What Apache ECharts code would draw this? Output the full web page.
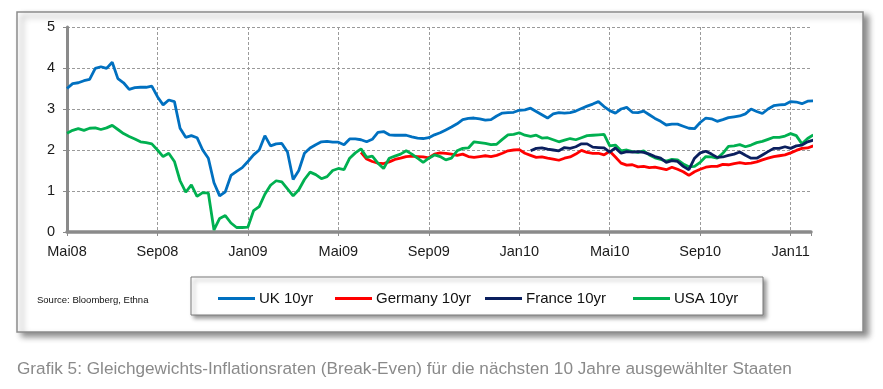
<!DOCTYPE html>
<html>
<head>
<meta charset="utf-8">
<script src="https://cdn.jsdelivr.net/npm/echarts@6/dist/echarts.min.js"></script>
<style>
html,body{margin:0;padding:0;background:#fff;}
#chart{width:883px;height:389px;}
</style>
</head>
<body>
<div id="chart"></div>
<script>
// Tick labels for the x axis (one every 4 months, starting May 2008)
const xTickLabels = ['Mai08','Sep08','Jan09','Mai09','Sep09','Jan10','Mai10','Sep10','Jan11'];
const seriesNames = ['UK 10yr','Germany 10yr','France 10yr','USA 10yr'];
// Sampling step of the readings, in months since May 2008
const stepMonths = 0.25;

// UK 10yr break-even (from step 0)
const ukVals = [
3.5,3.62,3.64,3.69,3.72,3.99,4.03,3.99,4.14,3.74,
3.64,3.48,3.52,3.53,3.53,3.56,3.3,3.1,3.22,3.18,
2.53,2.31,2.35,2.3,2.0,1.8,1.2,0.88,0.98,1.38,
1.48,1.57,1.72,1.88,2.0,2.35,2.1,2.15,2.16,1.95,
1.28,1.5,1.92,2.05,2.13,2.2,2.21,2.19,2.19,2.13,
2.27,2.27,2.25,2.2,2.26,2.43,2.45,2.37,2.36,2.36,
2.36,2.32,2.29,2.28,2.3,2.37,2.42,2.49,2.56,2.64,
2.74,2.77,2.78,2.76,2.73,2.74,2.83,2.9,2.91,2.92,
2.97,2.98,3.02,2.94,2.86,2.78,2.88,2.91,2.9,2.91,
2.95,3.01,3.07,3.12,3.18,3.06,2.96,2.9,3.0,3.04,
2.92,2.91,2.95,2.86,2.77,2.7,2.61,2.63,2.63,2.58,
2.53,2.52,2.67,2.78,2.76,2.7,2.74,2.79,2.81,2.83,
2.88,3.0,2.94,2.89,3.0,3.08,3.1,3.11,3.18,3.17,
3.13,3.19,3.2
];
const ukStart = 0;

// USA 10yr break-even (from step 0)
const usaVals = [
2.41,2.48,2.52,2.48,2.53,2.54,2.5,2.54,2.6,2.5,
2.4,2.33,2.27,2.2,2.18,2.15,2.0,1.84,1.92,1.72,
1.25,0.97,1.15,0.87,0.96,0.95,0.05,0.33,0.4,0.22,
0.11,0.11,0.12,0.52,0.62,0.92,1.14,1.25,1.22,1.05,
0.88,1.03,1.28,1.46,1.4,1.3,1.35,1.5,1.55,1.52,
1.8,1.93,2.03,1.82,1.85,1.68,1.55,1.8,1.85,1.9,
1.98,1.9,1.8,1.7,1.8,1.88,1.84,1.76,1.8,1.98,
2.04,2.05,2.2,2.18,2.16,2.13,2.14,2.26,2.37,2.38,
2.42,2.36,2.33,2.36,2.29,2.3,2.25,2.2,2.24,2.28,
2.25,2.3,2.35,2.36,2.37,2.38,2.1,2.12,1.98,2.0,
1.96,1.94,1.98,1.88,1.81,1.77,1.73,1.77,1.76,1.66,
1.59,1.6,1.7,1.84,1.83,1.8,1.92,2.09,2.1,2.13,
2.08,2.12,2.18,2.21,2.26,2.31,2.31,2.34,2.4,2.35,
2.15,2.28,2.37
];
const usaStart = 0;

// Germany 10yr break-even (from step 52)
const deVals = [
1.94,1.78,1.72,1.68,1.67,1.71,1.77,1.8,
1.84,1.85,1.84,1.83,1.81,1.9,1.93,1.92,1.9,1.87,
1.9,1.84,1.82,1.84,1.86,1.84,1.87,1.92,1.98,2.0,
2.01,1.92,1.87,1.82,1.83,1.8,1.78,1.75,1.8,1.83,
1.9,1.99,1.94,1.92,1.92,1.88,1.97,1.83,1.68,1.63,
1.64,1.59,1.6,1.57,1.58,1.55,1.52,1.58,1.53,1.47,
1.38,1.47,1.53,1.58,1.6,1.6,1.65,1.64,1.67,1.69,
1.67,1.68,1.71,1.76,1.8,1.84,1.86,1.88,1.93,1.99,
2.04,2.05,2.1
];
const deStart = 52;

// France 10yr break-even (from step 82)
const frVals = [
1.98,2.04,2.05,2.02,2.0,1.98,2.06,2.04,
2.08,2.15,2.15,2.07,2.06,2.05,1.95,2.05,1.92,1.96,
1.95,1.96,1.94,1.9,1.84,1.8,1.7,1.74,1.72,1.6,
1.52,1.8,1.93,1.97,1.9,1.82,1.83,1.87,1.9,1.95,
1.87,1.8,1.8,1.88,1.96,2.04,2.04,2.08,2.04,2.1,
2.12,2.2,2.24
];
const frStart = 82;

const colors = {uk:'#0070C0', de:'#FF0000', fr:'#0B1F5E', usa:'#00B050'};

function toPairs(vals, start){
  return vals.map((v,i)=>[(start+i)*stepMonths, v]);
}

const FONT = '"Liberation Sans", Arial, sans-serif';
const chart = echarts.init(document.getElementById('chart'), null, {renderer:'canvas'});

function lineSeries(name, data, color, z){
  return {
    name, type:'line', data, showSymbol:false, symbol:'none',
    lineStyle:{color, width:2.8}, itemStyle:{color}, z, clip:true,
    emphasis:{disabled:true}, animation:false
  };
}

const legendLefts = [213, 330, 480, 628];
const legends = seriesNames.map((n,i)=>({
  data:[n], left:legendLefts[i], top:286,
  itemWidth:37, itemHeight:3, itemGap:0, icon:'rect',
  textStyle:{fontSize:15, color:'#111', fontFamily:FONT, padding:[0,0,0,-1]},
  selectedMode:false
}));

const option = {
  animation:false,
  backgroundColor:'#ffffff',
  grid:{left:67, top:27, width:744, height:205, containLabel:false},
  xAxis:{
    type:'value', min:0, max:32.9, interval:4,
    axisLine:{show:true, onZero:false, lineStyle:{color:'#8a8a8a', width:3.5}},
    axisTick:{show:true, length:4, lineStyle:{color:'#8a8a8a', width:1}},
    axisLabel:{
      margin:12, color:'#1a1a1a', fontSize:14.5, fontFamily:FONT,
      formatter:(v)=> (Math.abs(v/4 - Math.round(v/4))<1e-6 ? (xTickLabels[Math.round(v/4)]||'') : '')
    },
    splitLine:{show:true, showMaxLine:false, lineStyle:{color:'#9a9a9a', type:[3,2], width:1}}
  },
  yAxis:{
    type:'value', min:0, max:5, interval:1,
    axisLine:{show:true, lineStyle:{color:'#8a8a8a', width:3}},
    axisTick:{show:true, length:4, lineStyle:{color:'#8a8a8a', width:1}},
    axisLabel:{margin:12, color:'#1a1a1a', fontSize:14.5, fontFamily:FONT},
    splitLine:{show:true, lineStyle:{color:'#9a9a9a', type:[3,2], width:1}}
  },
  legend:legends,
  graphic:[
    {type:'rect', z:-10, shape:{x:17, y:12, width:846, height:320},
      style:{fill:'#fff', stroke:'#8c8c8c', lineWidth:1.5,
        shadowColor:'rgba(0,0,0,0.45)', shadowBlur:6, shadowOffsetX:5, shadowOffsetY:4}},
    {type:'rect', z:-5, shape:{x:191, y:277, width:572, height:38},
      style:{fill:'#fff', stroke:'#7a7a7a', lineWidth:1,
        shadowColor:'rgba(0,0,0,0.4)', shadowBlur:4, shadowOffsetX:3, shadowOffsetY:3}},
    {type:'text', z:5, left:37, top:295,
      style:{text:'Source: Bloomberg, Ethna', fontSize:9.5, fill:'#111', fontFamily:FONT}},
    {type:'text', z:5, left:17, top:361,
      style:{text:'Grafik 5: Gleichgewichts-Inflationsraten (Break-Even) für die nächsten 10 Jahre ausgewählter Staaten',
        fontSize:17.2, fill:'#8a8a8a', fontFamily:FONT}}
  ],
  series:[
    lineSeries(seriesNames[0], toPairs(ukVals, ukStart), colors.uk, 3),
    lineSeries(seriesNames[1], toPairs(deVals, deStart), colors.de, 4),
    lineSeries(seriesNames[3], toPairs(usaVals, usaStart), colors.usa, 5),
    lineSeries(seriesNames[2], toPairs(frVals, frStart), colors.fr, 6)
  ]
};
chart.setOption(option);
</script>
</body>
</html>
